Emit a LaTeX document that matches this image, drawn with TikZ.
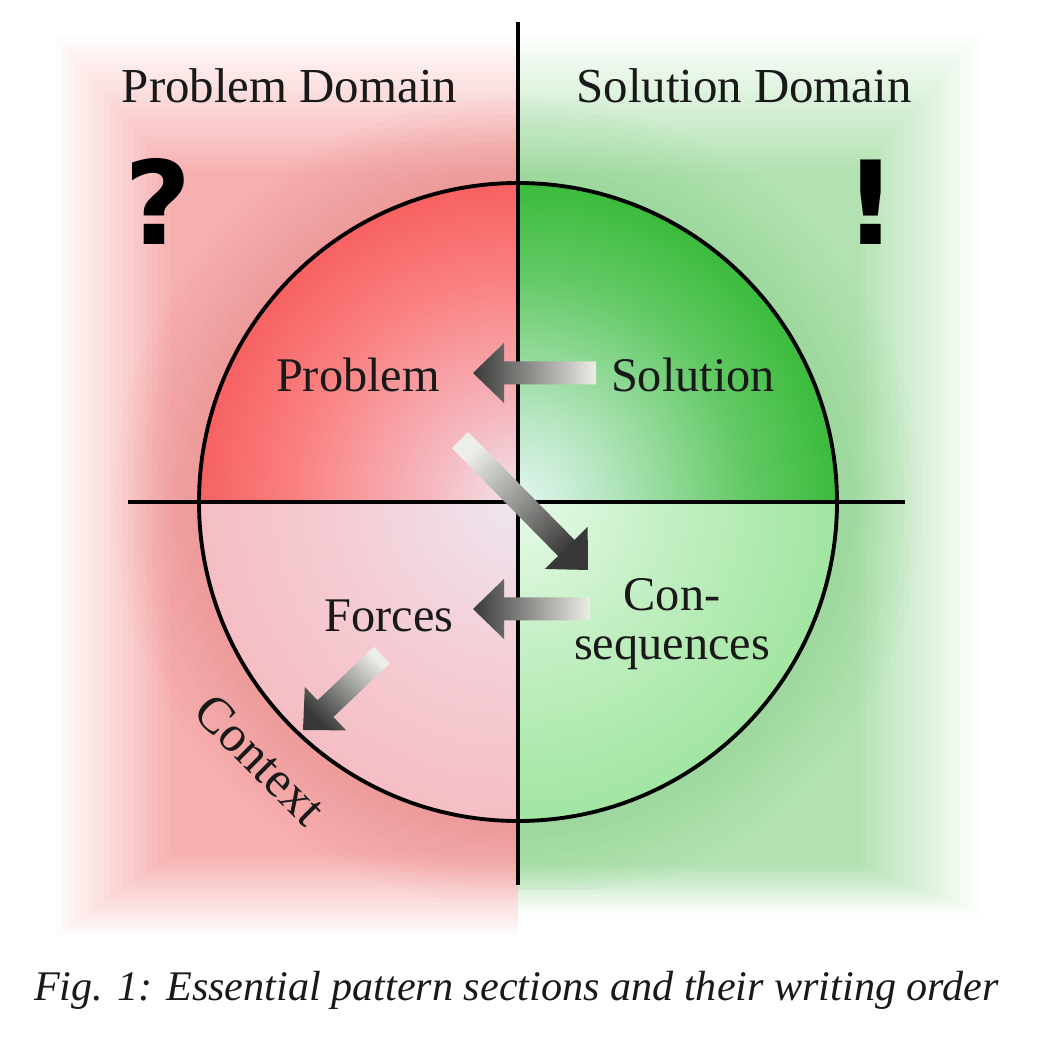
\documentclass[tikz,border=0pt]{standalone}
\usepackage{fontspec}
\setmainfont{Liberation Serif}
\newfontfamily\markfont{DejaVu Sans}
\usetikzlibrary{calc}

\definecolor{pinkbg}{HTML}{F7B0B0}
\definecolor{greenbg}{HTML}{B2E2B2}
\definecolor{pinkglow}{HTML}{EE5A5A}
\definecolor{greenglow}{HTML}{5CB85C}
\definecolor{arrowlight}{HTML}{EEEEE8}
\definecolor{arrowdark}{HTML}{383838}

\pgfdeclareradialshading{ulquad}{\pgfpoint{0bp}{0bp}}{%
  rgb(0bp)=(0.95,0.89,0.92); rgb(7bp)=(0.96,0.72,0.75); rgb(17.7bp)=(0.98,0.50,0.50);
  rgb(28.3bp)=(0.96,0.33,0.33); rgb(35.4bp)=(0.95,0.24,0.24); rgb(50bp)=(0.95,0.24,0.24)}
\pgfdeclareradialshading{urquad}{\pgfpoint{0bp}{0bp}}{%
  rgb(0bp)=(0.89,0.96,0.95); rgb(7bp)=(0.71,0.90,0.75); rgb(17.7bp)=(0.39,0.79,0.40);
  rgb(28.3bp)=(0.16,0.71,0.16); rgb(35.4bp)=(0.06,0.68,0.06); rgb(50bp)=(0.06,0.68,0.06)}
\pgfdeclareradialshading{llquad}{\pgfpoint{0bp}{0bp}}{%
  rgb(0bp)=(0.93,0.90,0.94); rgb(14.1bp)=(0.96,0.80,0.83); rgb(35.4bp)=(0.96,0.69,0.71);
  rgb(50bp)=(0.96,0.69,0.71)}
\pgfdeclareradialshading{lrquad}{\pgfpoint{0bp}{0bp}}{%
  rgb(0bp)=(0.91,0.98,0.91); rgb(14.1bp)=(0.74,0.93,0.74); rgb(35.4bp)=(0.53,0.87,0.53);
  rgb(50bp)=(0.53,0.87,0.53)}

\newcommand{\blockarrow}[3]{%
  \coordinate (hb) at ($(#2)!0.31cm!(#1)$);
  \shade[top color=arrowlight, bottom color=arrowdark, shading angle=#3]
    ($(#1)!0.115cm!90:(#2)$) -- ($(hb)!0.115cm!-90:(#1)$) -- ($(hb)!0.30cm!-90:(#1)$)
    -- (#2) -- ($(hb)!0.30cm!90:(#1)$) -- ($(hb)!0.115cm!90:(#1)$)
    -- ($(#1)!0.115cm!-90:(#2)$) -- cycle;}

\begin{document}
\begin{tikzpicture}[
  lbl/.style={font=\fontsize{13.75}{14.2}\selectfont, text=black!90, inner sep=0pt, anchor=base},
  title/.style={font=\fontsize{13.9}{16}\selectfont, text=black!90, inner sep=0pt, anchor=base},
  signmark/.style={font=\markfont\bfseries\fontsize{33}{36}\selectfont, inner sep=0pt, anchor=base},
  rim/.style={line width=1.1pt}]

\useasboundingbox (0,0) rectangle (10.45,10.39);
\coordinate (O) at (5.18,5.37);

% soft backgrounds of the two domains
\foreach \i [evaluate=\i as \pct using int(5*\i)] in {0,...,20} {
  \fill[pinkbg!\pct!white] (0.50+0.06*\i,0.99+0.0425*\i) rectangle (5.18,10.09-0.07*\i);
  \fill[greenbg!\pct!white] (5.18,1.24+0.025*\i) rectangle (9.85-0.0625*\i,10.09-0.07*\i);
}
% glow round the circle
\begin{scope}
  \clip (1.0,1.4) rectangle (5.18,9.6);
  \foreach \j in {1,...,10}
    \fill[pinkglow, opacity=0.025] (O) circle (3.19+0.085*\j);
\end{scope}
\begin{scope}
  \clip (5.18,1.5) rectangle (9.3,9.6);
  \foreach \j in {1,...,10}
    \fill[greenglow, opacity=0.018] (O) circle (3.19+0.085*\j);
\end{scope}

\begin{scope}
  \clip (O) rectangle (1.9,8.6);
  \shade[shading=ulquad] (O) circle (3.19);
\end{scope}
\begin{scope}
  \clip (O) rectangle (8.5,8.6);
  \shade[shading=urquad] (O) circle (3.19);
\end{scope}
\begin{scope}
  \clip (O) rectangle (1.9,2.1);
  \shade[shading=llquad] (O) circle (3.19);
\end{scope}
\begin{scope}
  \clip (O) rectangle (8.5,2.1);
  \shade[shading=lrquad] (O) circle (3.19);
\end{scope}

\draw[rim] (O) circle (3.19);
\draw[rim] (5.18,10.17) -- (5.18,1.54);
\draw[rim] (1.28,5.37) -- (9.05,5.37);

\node[title] (probdom) at (2.895,9.36) {Problem Domain};
\node[title] (soldom) at (7.44,9.36) {Solution Domain};
\node[signmark] (qmark) at (1.58,7.94) {?};
\node[signmark] (bang) at (8.71,7.94) {!};

\node[lbl] (prob) at (3.58,6.47) {Problem};
\node[lbl] (sol) at (6.93,6.47) {Solution};
\node[lbl] (forces) at (3.89,4.07) {Forces};
\node[lbl, align=center] (cons) at (6.72,3.79) {Con-\\sequences};
\node[lbl, anchor=center, rotate=-45, font=\fontsize{14.5}{17}\selectfont] (context)
  at ($(O)+(225:3.64)$) {Context};

\coordinate (a1t) at (5.96,6.66);
\coordinate (a1h) at (4.73,6.66);
\coordinate (a2t) at (4.60,5.99);
\coordinate (a2h) at (5.88,4.69);
\coordinate (a3t) at (5.90,4.30);
\coordinate (a3h) at (4.73,4.30);
\coordinate (a4t) at (3.82,3.84);
\coordinate (a4h) at (3.03,3.09);
\blockarrow{a1t}{a1h}{270}
\blockarrow{a2t}{a2h}{45}
\blockarrow{a3t}{a3h}{270}
\blockarrow{a4t}{a4h}{315}

\node[lbl, font=\fontsize{12}{14}\selectfont\itshape] (caption) at (5.165,0.39)
  {Fig. 1: Essential pattern sections and their writing order};
\end{tikzpicture}
\end{document}
